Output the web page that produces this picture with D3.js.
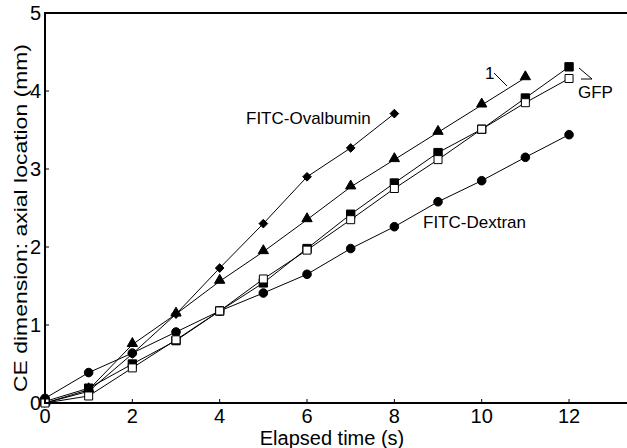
<!DOCTYPE html>
<html>
<head>
<meta charset="utf-8">
<script src="https://cdn.jsdelivr.net/npm/d3@7"></script>
<style>
  body { margin: 0; background: #fff; }
  text { font-family: Arial, "Liberation Sans", sans-serif; fill: #000; }
</style>
</head>
<body>
<svg id="chart" width="627" height="448"></svg>
<script>
// elapsed time (s)
var times = [0, 1, 2, 3, 4, 5, 6, 7, 8, 9, 10, 11, 12];

// axial location (mm) per species
var ovalbumin = [0.00, 0.15, 0.63, 1.14, 1.73, 2.30, 2.90, 3.27, 3.71];
var species1 = [0.00, 0.17, 0.75, 1.14, 1.56, 1.94, 2.35, 2.77, 3.12, 3.47, 3.82, 4.17];
var gfpFilled = [0.02, 0.19, 0.50, 0.80, 1.18, 1.54, 1.98, 2.42, 2.82, 3.21, 3.51, 3.91, 4.31];
var gfpOpen = [0.00, 0.09, 0.45, 0.81, 1.18, 1.59, 1.96, 2.35, 2.75, 3.12, 3.51, 3.85, 4.16];
var dextran = [0.06, 0.39, 0.64, 0.91, 1.18, 1.41, 1.65, 1.98, 2.26, 2.58, 2.85, 3.15, 3.44];

var xTicks = [0, 2, 4, 6, 8, 10, 12];
var yTicks = [0, 1, 2, 3, 4, 5];

var svg = d3.select("#chart");

var x = d3.scaleLinear().domain([0, 14]).range([45, 45 + 14 * 43.67]);
var y = d3.scaleLinear().domain([0, 5]).range([403, 13]);

var series = [
	{ name: "ovalbumin", values: ovalbumin, symbol: d3.symbolDiamond2, size: 48, fill: "#000" },
	{ name: "species1", values: species1, symbol: d3.symbolTriangle, size: 46, fill: "#000" },
	{ name: "dextran", values: dextran, symbol: d3.symbolCircle, size: 58, fill: "#000" },
	{ name: "gfpFilled", values: gfpFilled, symbol: d3.symbolSquare, size: 70, fill: "#000" },
	{ name: "gfpOpen", values: gfpOpen, symbol: d3.symbolSquare, size: 64, fill: "#fff" }
];

var plot = svg.append("g");

var line = d3.line()
	.x(function (d, i) { return x(times[i]); })
	.y(function (d) { return y(d); });

// lines first
series.forEach(function (s) {
	plot.append("path")
		.attr("d", line(s.values))
		.attr("fill", "none")
		.attr("stroke", "#000")
		.attr("stroke-width", 1);
});

// markers
series.forEach(function (s) {
	var sym = d3.symbol().type(s.symbol).size(s.size);
	plot.selectAll(null)
		.data(s.values)
		.enter()
		.append("path")
		.attr("d", sym)
		.attr("transform", function (d, i) {
			var dy = s.symbol === d3.symbolTriangle ? -1 : 0;
			return "translate(" + x(times[i]) + "," + (y(d) + dy) + ")";
		})
		.attr("fill", s.fill)
		.attr("stroke", "#000")
		.attr("stroke-width", 1);
});

// frame: left, bottom, top
svg.append("line")
	.attr("x1", 45).attr("x2", 45).attr("y1", y(5)).attr("y2", y(0) + 1)
	.attr("stroke", "#000").attr("stroke-width", 2);
svg.append("line")
	.attr("x1", 44).attr("x2", 627).attr("y1", y(0)).attr("y2", y(0))
	.attr("stroke", "#000").attr("stroke-width", 2);
svg.append("line")
	.attr("x1", 44).attr("x2", 627).attr("y1", y(5)).attr("y2", y(5))
	.attr("stroke", "#000").attr("stroke-width", 2);

// ticks pointing inward
svg.selectAll(null).data(xTicks).enter().append("line")
	.attr("x1", function (d) { return x(d); })
	.attr("x2", function (d) { return x(d); })
	.attr("y1", y(0)).attr("y2", y(0) - 4)
	.attr("stroke", "#000").attr("stroke-width", 1);
svg.selectAll(null).data(yTicks).enter().append("line")
	.attr("x1", 45).attr("x2", 49)
	.attr("y1", function (d) { return y(d); })
	.attr("y2", function (d) { return y(d); })
	.attr("stroke", "#000").attr("stroke-width", 1);

// tick labels
svg.selectAll(null).data(xTicks).enter().append("text")
	.attr("x", function (d) { return x(d); })
	.attr("y", 423)
	.attr("text-anchor", "middle")
	.attr("font-size", 20)
	.text(function (d) { return d; });
svg.selectAll(null).data(yTicks).enter().append("text")
	.attr("x", 41)
	.attr("y", function (d) { return y(d) + 7; })
	.attr("text-anchor", "end")
	.attr("font-size", 20)
	.text(function (d) { return d; });

// axis titles
svg.append("text")
	.attr("x", 332).attr("y", 445)
	.attr("text-anchor", "middle")
	.attr("font-size", 20)
	.text("Elapsed time (s)");
svg.append("text")
	.attr("transform", "translate(27,218) rotate(-90)")
	.attr("text-anchor", "middle")
	.attr("font-size", 19)
	.attr("textLength", 348)
	.attr("lengthAdjust", "spacingAndGlyphs")
	.text("CE dimension: axial location (mm)");

// annotations
svg.append("text").attr("x", 246).attr("y", 124).attr("font-size", 17).text("FITC-Ovalbumin");
svg.append("text").attr("x", 423).attr("y", 228).attr("font-size", 17).text("FITC-Dextran");
svg.append("text").attr("x", 485).attr("y", 79).attr("font-size", 17).text("1");
svg.append("text").attr("x", 578).attr("y", 98).attr("font-size", 17).text("GFP");

svg.append("line").attr("x1", 494).attr("y1", 73).attr("x2", 507).attr("y2", 86)
	.attr("stroke", "#000").attr("stroke-width", 1);
svg.append("line").attr("x1", 579).attr("y1", 68).attr("x2", 592).attr("y2", 79)
	.attr("stroke", "#000").attr("stroke-width", 1);
svg.append("line").attr("x1", 581).attr("y1", 79).attr("x2", 592).attr("y2", 79)
	.attr("stroke", "#000").attr("stroke-width", 1);
</script>
</body>
</html>
